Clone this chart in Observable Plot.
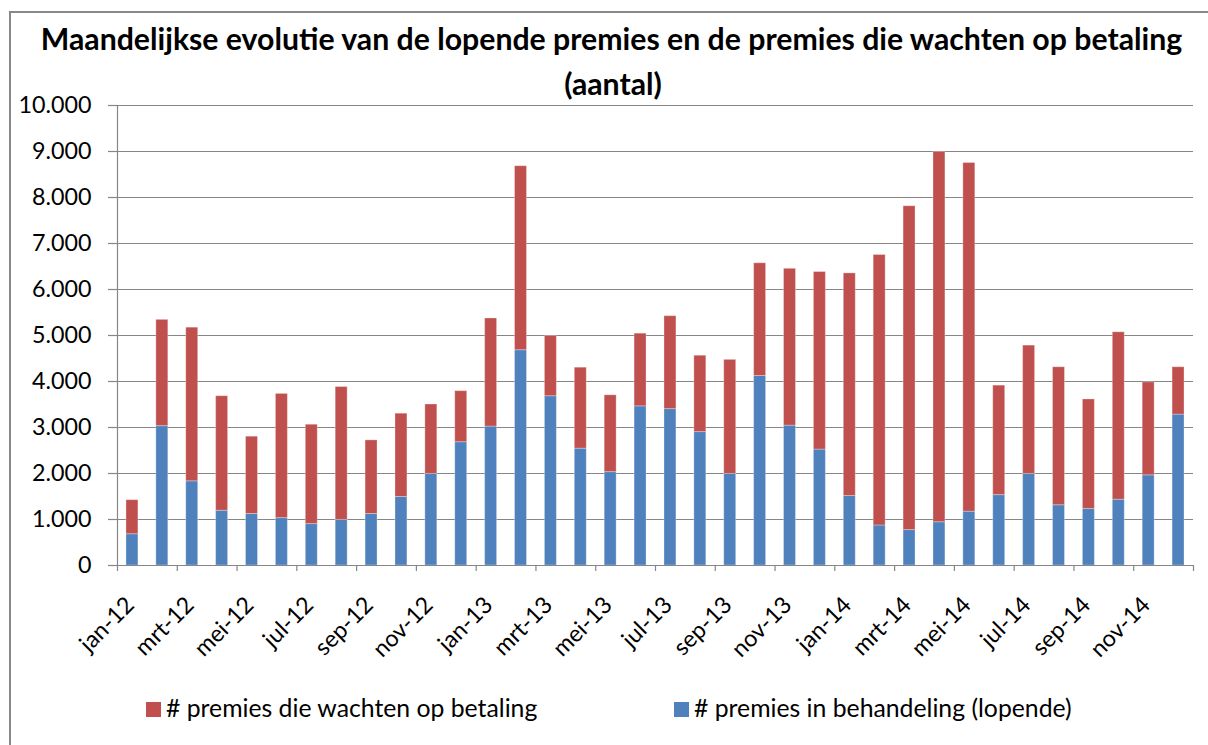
<!DOCTYPE html>
<html>
<head>
<meta charset="utf-8">
<script src="https://cdn.jsdelivr.net/npm/d3@7"></script>
<script src="https://cdn.jsdelivr.net/npm/@observablehq/plot@0.6"></script>
<style>
  body { margin: 0; background: #fff; }
  #wrap { position: relative; width: 1208px; height: 745px; overflow: hidden; font-family: Lato, sans-serif; color: #000; }
  #border { position: absolute; left: 9px; top: 11px; width: 1400px; height: 900px; border-left: 2px solid #888; border-top: 2px solid #888; box-sizing: border-box; }
  #chart { position: absolute; left: 0; top: 0; }
  .t { position: absolute; white-space: nowrap; line-height: 1.2; }
  .sq { position: absolute; width: 15px; height: 15px; }
</style>
</head>
<body>
<div id="wrap">
  <div id="border"></div>
  <div id="chart"></div>
  <div id="title1" class="t" style="font-weight:bold"></div>
  <div id="title2" class="t" style="font-weight:bold"></div>
  <div id="sq1" class="sq"></div><div id="leg1" class="t"></div>
  <div id="sq2" class="sq"></div><div id="leg2" class="t"></div>
</div>
<script>
// ---- data ----
const months = ["jan-12","feb-12","mrt-12","apr-12","mei-12","jun-12","jul-12","aug-12","sep-12","okt-12","nov-12","dec-12",
                "jan-13","feb-13","mrt-13","apr-13","mei-13","jun-13","jul-13","aug-13","sep-13","okt-13","nov-13","dec-13",
                "jan-14","feb-14","mrt-14","apr-14","mei-14","jun-14","jul-14","aug-14","sep-14","okt-14","nov-14","dec-14"];
const lopende = [680,3030,1830,1190,1120,1030,900,990,1120,1490,1990,2680,
                 3020,4680,3680,2540,2030,3460,3400,2900,1990,4120,3040,2520,
                 1510,870,770,940,1170,1530,1990,1310,1230,1430,1960,3280];
const wachten = [740,2310,3340,2490,1680,2700,2160,2890,1600,1810,1510,1110,
                 2350,4000,1310,1760,1670,1580,2020,1660,2480,2450,3410,3860,
                 4840,5880,7040,8050,7580,2380,2790,3000,2380,3640,2020,1030];
const yTicks = [0,1000,2000,3000,4000,5000,6000,7000,8000,9000,10000];
const labelMonths = ["jan-12","mrt-12","mei-12","jul-12","sep-12","nov-12","jan-13","mrt-13","mei-13","jul-13","sep-13","nov-13",
                     "jan-14","mrt-14","mei-14","jul-14","sep-14","nov-14"];
const seriesNames = ["# premies in behandeling (lopende)", "# premies die wachten op betaling"];
const seriesColors = ["#4F81BD", "#C0504D"];
const titleLines = ["Maandelijkse evolutie van de lopende premies en de premies die wachten op betaling", "(aantal)"];

// ---- layout helpers ----
const FONT = "Lato";
const ctx = document.createElement("canvas").getContext("2d");
function fit(text, weight, target) {
  ctx.font = `${weight} 100px ${FONT}`;
  return 100 * target / ctx.measureText(text).width;
}
const tickFont = fit("10.000", "normal", 73);
const titleFont = fit(titleLines[0], "bold", 1143);
const legFont = fit(seriesNames[1], "normal", 372);

const W = 1208, H = 745, mL = 117, mR = 15, mT = 105, mB = 180;
const step = (W - mL - mR) / months.length;
const nl = d3.formatLocale({decimal: ",", thousands: ".", grouping: [3], currency: ["€", ""]});
const fmt = nl.format(",d");

const data = months.flatMap((m, i) => [
  {month: m, series: seriesNames[0], value: lopende[i]},
  {month: m, series: seriesNames[1], value: wachten[i]}
]);

const gray = "#868686";
const plot = Plot.plot({
  width: W, height: H, marginLeft: mL, marginRight: mR, marginTop: mT, marginBottom: mB,
  style: {fontFamily: FONT, fontSize: tickFont + "px", color: "#000", background: "transparent", overflow: "visible"},
  x: {type: "band", domain: months, paddingInner: 0.6, paddingOuter: 0.3, align: 0.5, axis: null},
  y: {domain: [0, 10000], axis: null},
  color: {domain: seriesNames, range: seriesColors},
  marks: [
    Plot.gridY(yTicks, {stroke: gray, strokeOpacity: 1, strokeWidth: 1.2}),
    Plot.barY(data, {x: "month", y: "value", fill: "series", stroke: "#fff", strokeOpacity: 0.3, strokeWidth: 1}),
    Plot.ruleY([0], {stroke: gray, strokeWidth: 1.2}),
    Plot.ruleX([months[0]], {dx: -step / 2, stroke: gray, strokeWidth: 1.2}),
    Plot.axisY({ticks: yTicks, tickSize: 9, tickPadding: 17, tickFormat: fmt, stroke: gray, strokeWidth: 1.2, label: null, fontSize: tickFont}),
    Plot.axisX({ticks: labelMonths, tickSize: 6, tickFormat: () => "", dx: -step / 2, stroke: gray, strokeWidth: 1.2, label: null}),
    Plot.axisX({ticks: [months[months.length - 1]], tickSize: 6, tickFormat: () => "", dx: step / 2, stroke: gray, strokeWidth: 1.2, label: null}),
    Plot.text(labelMonths, {x: d => d, frameAnchor: "bottom", text: d => d, rotate: -45, textAnchor: "end", lineAnchor: "bottom",
                            dx: 3, dy: 41, fontSize: tickFont, fill: "#000"})
  ]
});
document.getElementById("chart").appendChild(plot);

// ---- title & legend (HTML) ----
const ASC = 0.987;
function place(id, text, size, baseline, opts) {
  const el = document.getElementById(id);
  el.textContent = text;
  el.style.fontSize = size + "px";
  el.style.top = (baseline - ASC * size) + "px";
  if (opts.center != null) {
    el.style.left = "0px";
    el.style.width = (2 * opts.center) + "px";
    el.style.textAlign = "center";
  } else {
    el.style.left = opts.left + "px";
  }
}
place("title1", titleLines[0], titleFont, 50, {center: 611.5});
place("title2", titleLines[1], titleFont, 95, {center: 613});
place("leg1", seriesNames[1], legFont, 717, {left: 166});
place("leg2", seriesNames[0], legFont, 717, {left: 694});
const s1 = document.getElementById("sq1"); s1.style.left = "146px"; s1.style.top = "702px"; s1.style.background = seriesColors[1];
const s2 = document.getElementById("sq2"); s2.style.left = "674px"; s2.style.top = "702px"; s2.style.background = seriesColors[0];
</script>
</body>
</html>
